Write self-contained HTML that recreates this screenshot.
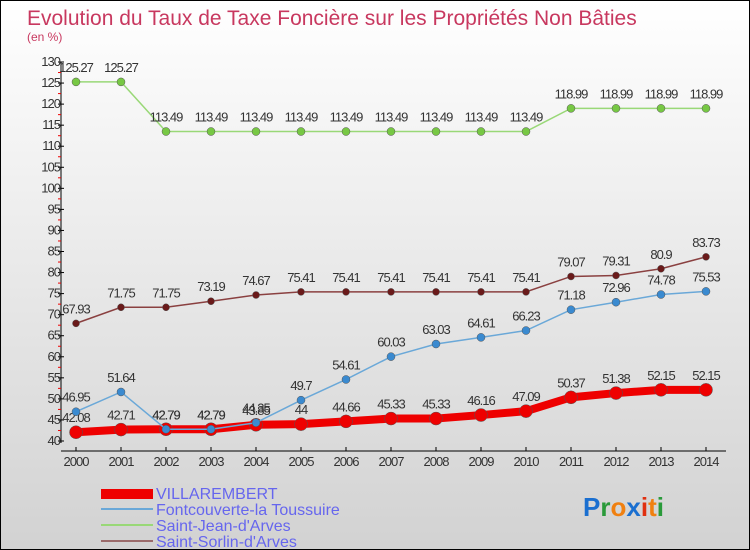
<!DOCTYPE html>
<html><head><meta charset="utf-8"><style>
body{margin:0}
#c{width:748px;height:548px;border:1px solid #000;background:linear-gradient(#fff,#d2d2d2);position:relative;font-family:"Liberation Sans",sans-serif;overflow:hidden}
</style></head><body>
<div id="c">
<svg id="s" width="748" height="548" style="position:absolute;left:0;top:0">
<text x="26" y="24" font-size="21" fill="#c8385f">Evolution du Taux de Taxe Foncière sur les Propriétés Non Bâties</text>
<text x="26" y="40" font-size="12" fill="#c8385f">(en %)</text>
<g id="g"></g>
<g>
<rect x="100" y="488" width="52" height="10" fill="#e00"/>
<text x="155" y="498" font-size="16" fill="#6666ee">VILLAREMBERT</text>
<rect x="100" y="507" width="52" height="2" fill="#6aa8d8"/>
<text x="155" y="514" font-size="16" fill="#6666ee">Fontcouverte-la Toussuire</text>
<rect x="100" y="523" width="52" height="2" fill="#99d877"/>
<text x="155" y="530" font-size="16" fill="#6666ee">Saint-Jean-d'Arves</text>
<rect x="100" y="539" width="52" height="2" fill="#9a6a6a"/>
<text x="155" y="546" font-size="16" fill="#6666ee">Saint-Sorlin-d'Arves</text>
</g>
<g font-size="26" font-weight="bold">
<text x="582" y="515"><tspan fill="#1a6fd0">P</tspan><tspan fill="#2a9a3a">r</tspan><tspan fill="#f08010">o</tspan><tspan fill="#1a6fd0">x</tspan><tspan fill="#e03010">i</tspan><tspan fill="#f08010">t</tspan><tspan fill="#2a9a3a">i</tspan></text>
</g>
</svg>
</div>
<script>
const years=[2000,2001,2002,2003,2004,2005,2006,2007,2008,2009,2010,2011,2012,2013,2014];
const villarembert=[42.08,42.71,42.79,42.79,43.85,44,44.66,45.33,45.33,46.16,47.09,50.37,51.38,52.15,52.15];
const fontcouverte=[46.95,51.64,42.79,42.79,44.35,49.7,54.61,60.03,63.03,64.61,66.23,71.18,72.96,74.78,75.53];
const saintJean=[125.27,125.27,113.49,113.49,113.49,113.49,113.49,113.49,113.49,113.49,113.49,118.99,118.99,118.99,118.99];
const saintSorlin=[67.93,71.75,71.75,73.19,74.67,75.41,75.41,75.41,75.41,75.41,75.41,79.07,79.31,80.9,83.73];
const yTicks=[40,45,50,55,60,65,70,75,80,85,90,95,100,105,110,115,120,125,130];
const xs=i=>75+i*45, ys=v=>440-(v-40)*(379/90);
const g=document.getElementById('g'),NS='http://www.w3.org/2000/svg';
function mk(t,a){const e=document.createElementNS(NS,t);for(const k in a)e.setAttribute(k,a[k]);g.appendChild(e);return e;}
let e=mk('line',{x1:60,y1:ys(40)+2,x2:60,y2:ys(130),stroke:'#000'});


e=mk('line',{x1:60,y1:450,x2:725,y2:450,stroke:'#000'});


yTicks.forEach(v=>{
 let t=mk('line',{x1:57,x2:63,y1:ys(v),y2:ys(v),stroke:'#000'});
 
 
 if(v<130){let m=mk('line',{x1:57,x2:60,y1:ys(v+2.5),y2:ys(v+2.5),stroke:'#e00'});
 
 }
 let l=mk('text',{x:59,y:ys(v)+4,'font-size':13,'text-anchor':'end',fill:'#333','letter-spacing':'-1'});l.textContent=v;
 
 
});
years.forEach((y,i)=>{
 let t=mk('line',{x1:xs(i),x2:xs(i),y1:446,y2:450,stroke:'#000'});
 
 
 let l=mk('text',{x:xs(i),y:465,'font-size':13,'text-anchor':'middle',fill:'#333','letter-spacing':'-1'});l.textContent=y;
 
 
});
function series(vals,name,color,dot,w,r){
 let p=mk('polyline',{points:vals.map((v,i)=>xs(i)+','+ys(v)).join(' '),fill:'none',stroke:color,'stroke-width':w});
 
 
 vals.forEach((v,i)=>{
  let c=mk('circle',{cx:xs(i),cy:ys(v),r:r,fill:dot,stroke:'#555','stroke-width':0.5});
  
  
  let l=mk('text',{x:xs(i),y:ys(v)-10,'font-size':13,'text-anchor':'middle',fill:'#333','letter-spacing':'-1'});l.textContent=String(v);
  
  
 });
}
series(saintJean,'saint-jean','#99d877','#77c844',1.5,4);
series(saintSorlin,'saint-sorlin','#8a4040','#6a1a1a',1.5,3.5);
series(villarembert,'villarembert','#e00','#e00',8,6.5);
series(fontcouverte,'fontcouverte','#6aa8d8','#3a8ad0',1.5,4);
</script>
</body></html>
